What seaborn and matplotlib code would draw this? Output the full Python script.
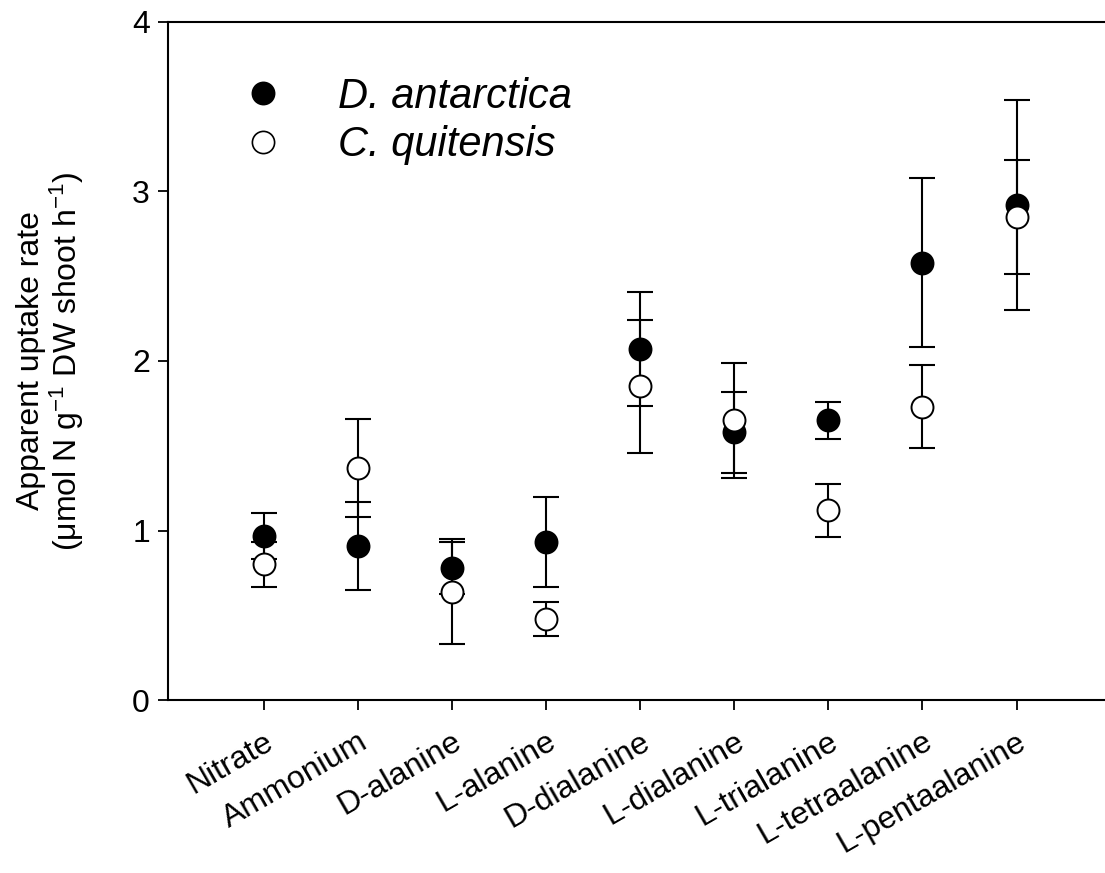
import numpy as np
import pandas as pd
import seaborn as sns
import matplotlib.pyplot as plt

sns.set_theme(style="ticks", context="paper",
              rc={"text.color": "black", "axes.labelcolor": "black",
                  "xtick.color": "black", "ytick.color": "black",
                  "axes.edgecolor": "black"})
plt.rcParams["font.family"] = ["Liberation Sans", "DejaVu Sans"]
plt.rcParams["mathtext.fontset"] = "custom"
plt.rcParams["mathtext.rm"] = "Liberation Sans"
plt.rcParams["mathtext.it"] = "Liberation Sans:italic"

# N forms on the x axis
forms = ["Nitrate", "Ammonium", "D-alanine", "L-alanine", "D-dialanine",
         "L-dialanine", "L-trialanine", "L-tetraalanine", "L-pentaalanine"]

# mean uptake rates and standard errors
d_antarctica = [0.97, 0.91, 0.78, 0.93, 2.07, 1.58, 1.65, 2.58, 2.92]
d_antarctica_se = [0.135, 0.26, 0.155, 0.265, 0.335, 0.24, 0.11, 0.50, 0.62]
c_quitensis = [0.80, 1.37, 0.64, 0.48, 1.85, 1.65, 1.12, 1.73, 2.85]
c_quitensis_se = [0.13, 0.29, 0.31, 0.10, 0.39, 0.34, 0.157, 0.245, 0.335]

df = pd.DataFrame({
    "form": forms * 2,
    "rate": d_antarctica + c_quitensis,
    "se": d_antarctica_se + c_quitensis_se,
    "species": ["D. antarctica"] * len(forms) + ["C. quitensis"] * len(forms),
})

fig = plt.figure(figsize=(11.05, 8.73), dpi=100)
ax = fig.add_axes([0.152, 0.198, 0.848, 0.777])

pos = np.arange(len(forms))
styles = {"D. antarctica": "black", "C. quitensis": "white"}
handles = []
for i, (sp, fc) in enumerate(styles.items()):
    sub = df[df["species"] == sp]
    ax.errorbar(pos, sub["rate"], yerr=sub["se"], fmt="none", ecolor="black",
                elinewidth=1.5, capsize=9.5, capthick=1.5, zorder=2 + 2 * i)
    sns.scatterplot(x=pos, y=sub["rate"].values, ax=ax, s=250, color=fc,
                    edgecolor="black", linewidth=1.4, zorder=3 + 2 * i,
                    legend=False)
    handles.append(plt.Line2D([], [], ls="none", marker="o", markersize=16,
                              markerfacecolor=fc, markeredgecolor="black",
                              markeredgewidth=1.2, label=sp))

ax.set_xlim(-1.02, 8.94)
ax.set_ylim(0, 4)
ax.set_yticks([0, 1, 2, 3, 4])
ax.set_xticks(pos)
ax.set_xticklabels(forms, rotation=30, ha="right", rotation_mode="anchor",
                   fontsize=23)
ax.tick_params(axis="y", labelsize=23, length=7, width=1.3, direction="out",
               pad=6)
ax.tick_params(axis="x", length=7, width=1.3, direction="out", pad=12)
ax.set_ylabel("Apparent uptake rate\n(\u03bcmol N g$^{-1}$ DW shoot h$^{-1}$)",
              fontsize=23, linespacing=1.05)
ax.yaxis.set_label_coords(-0.088, 0.5)

for s in ["left", "top", "bottom"]:
    ax.spines[s].set_linewidth(1.5)
ax.spines["right"].set_visible(False)

ax.legend(handles=handles, loc="upper left", bbox_to_anchor=(0.017, 0.974),
          frameon=False, handletextpad=0.8, labelspacing=0.2,
          prop={"size": 30, "style": "italic"})

fig.savefig("out.png", dpi=100)
